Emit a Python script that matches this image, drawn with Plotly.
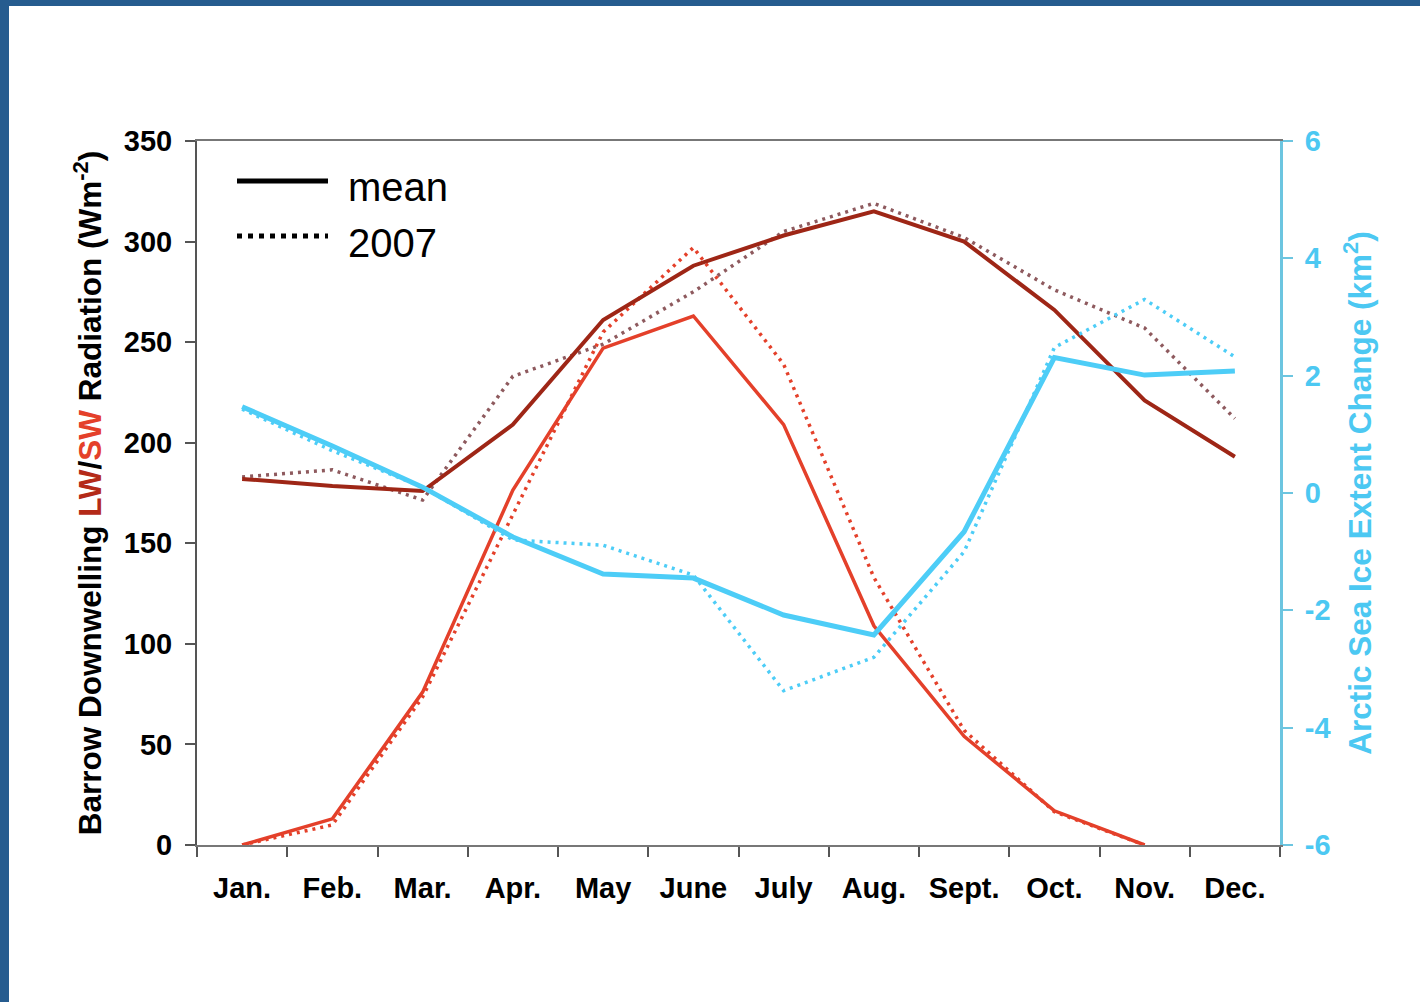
import plotly.graph_objects as go

# Monthly climatology at Barrow and Arctic sea-ice extent change
months = ["Jan.", "Feb.", "Mar.", "Apr.", "May", "June", "July",
          "Aug.", "Sept.", "Oct.", "Nov.", "Dec."]

# Downwelling longwave (W m-2)
lw_mean = [182, 178.5, 176, 209, 261, 288, 303, 315, 300, 266, 221, 193]
lw_2007 = [183, 186.5, 171.5, 233, 249, 275, 305, 319, 302, 276, 257, 212]

# Downwelling shortwave (W m-2)
sw_mean = [0, 13, 76, 176.5, 247, 263, 209, 109, 54, 17, 0, None]
sw_2007 = [0, 10, 73.6, 164, 255, 297, 239, 133, 57, 16.5, 0, None]

# Arctic sea-ice extent change (km2)
ice_mean = [1.47, 0.8, 0.1, -0.75, -1.38, -1.45, -2.08, -2.42, -0.66, 2.31, 2.01, 2.08]
ice_2007 = [1.43, 0.72, 0.1, -0.8, -0.89, -1.4, -3.37, -2.8, -1.0, 2.48, 3.3, 2.32]

left_ticks = [0, 50, 100, 150, 200, 250, 300, 350]
right_ticks = [-6, -4, -2, 0, 2, 4, 6]
right_labels = ["-6", "-4", "-2", "0", "2", "4", "6"]

LW_COL = "#9E2616"
LW07_COL = "#8E5A5E"
SW_COL = "#E4402A"
ICE_COL = "#4DCDF7"
ICE_TXT = "#4CC8F2"
AX_COL = "#555555"
RAX_COL = "#6CC5E0"
FONT = "Liberation Sans, Arial, sans-serif"
DOT = "3px,5px"

fig = go.Figure()

fig.add_trace(go.Scatter(x=months, y=lw_2007, mode="lines", yaxis="y",
                         line=dict(color=LW07_COL, width=3.5, dash=DOT)))
fig.add_trace(go.Scatter(x=months, y=sw_2007, mode="lines", yaxis="y",
                         line=dict(color=SW_COL, width=3.5, dash=DOT)))
fig.add_trace(go.Scatter(x=months, y=lw_mean, mode="lines", yaxis="y",
                         line=dict(color=LW_COL, width=4)))
fig.add_trace(go.Scatter(x=months, y=sw_mean, mode="lines", yaxis="y",
                         line=dict(color=SW_COL, width=3.5)))
fig.add_trace(go.Scatter(x=months, y=ice_2007, mode="lines", yaxis="y2",
                         line=dict(color=ICE_COL, width=3.5, dash=DOT)))
fig.add_trace(go.Scatter(x=months, y=ice_mean, mode="lines", yaxis="y2",
                         line=dict(color=ICE_COL, width=5)))

boundaries = [i - 0.5 for i in range(13)]

fig.update_layout(
    width=1420, height=1002,
    margin=dict(l=197, r=140, t=141, b=157),
    paper_bgcolor="white", plot_bgcolor="white",
    showlegend=False,
    font=dict(family=FONT, color="black"),
    xaxis=dict(
        type="category", categoryorder="array", categoryarray=months,
        range=[-0.5, 11.5], tickson="boundaries",
        ticks="outside", ticklen=10, tickwidth=2, tickcolor=AX_COL,
        showline=True, linecolor="#777777", linewidth=2, mirror=True,
        showgrid=False, zeroline=False,
        tickfont=dict(size=29, weight="bold", color="black"),
        ticklabelstandoff=16,
    ),
    xaxis2=dict(
        overlaying="x", anchor="y", side="bottom",
        range=[-0.5, 11.5], tickvals=boundaries,
        ticks="inside", ticklen=10, tickwidth=2, tickcolor=AX_COL,
        showticklabels=False, showline=False, showgrid=False, zeroline=False,
    ),
    yaxis=dict(
        range=[0, 350], tickvals=left_ticks,
        ticks="outside", ticklen=10, tickwidth=2, tickcolor=AX_COL,
        showline=True, linecolor=AX_COL, linewidth=2,
        showgrid=False, zeroline=False,
        tickfont=dict(size=29, weight="bold", color="black"),
        ticklabelstandoff=7,
        title=dict(
            text="Barrow Downwelling <span style='color:#B42A18'>LW</span>/"
                 "<span style='color:#E4402A'>SW</span> Radiation (Wm<sup>-2</sup>)",
            font=dict(size=31.5, weight="bold", color="black"),
            standoff=13,
        ),
    ),
    yaxis2=dict(
        overlaying="y", side="right", anchor="x",
        range=[-6, 6], tickvals=right_ticks, ticktext=right_labels,
        ticks="outside", ticklen=10, tickwidth=2, tickcolor=RAX_COL,
        showline=True, linecolor=RAX_COL, linewidth=3,
        showgrid=False, zeroline=False,
        tickfont=dict(size=29, weight="bold", color=ICE_TXT),
        ticklabelstandoff=6,
        title=dict(
            text="Arctic Sea Ice Extent Change (km<sup>2</sup>)",
            font=dict(size=31.5, weight="bold", color=ICE_TXT),
            standoff=20,
        ),
    ),
    yaxis3=dict(
        overlaying="y", side="left", anchor="x",
        range=[0, 350], tickvals=left_ticks,
        ticks="inside", ticklen=10, tickwidth=2, tickcolor=AX_COL,
        showticklabels=False, showline=False, showgrid=False, zeroline=False,
    ),
    yaxis4=dict(
        overlaying="y", side="right", anchor="x",
        range=[-6, 6], tickvals=right_ticks,
        ticks="inside", ticklen=10, tickwidth=2, tickcolor=RAX_COL,
        showticklabels=False, showline=False, showgrid=False, zeroline=False,
    ),
)

# Page frame (dark blue strips along the left and top edges)
W, H = 1420, 1002
L, T, PW, PH = 197, 141, 1083, 704


def px(x):
    return (x - L) / PW


def py(y):
    return (T + PH - y) / PH


FRAME = "#265C8F"
fig.add_shape(type="rect", xref="paper", yref="paper",
              x0=px(0), x1=px(9), y0=py(H), y1=py(0),
              fillcolor=FRAME, line=dict(width=0), layer="above")
fig.add_shape(type="rect", xref="paper", yref="paper",
              x0=px(0), x1=px(W), y0=py(6), y1=py(0),
              fillcolor=FRAME, line=dict(width=0), layer="above")

# Line-style key
fig.add_shape(type="line", xref="paper", yref="paper",
              x0=px(237), x1=px(328), y0=py(181), y1=py(181),
              line=dict(color="black", width=5))
fig.add_shape(type="line", xref="paper", yref="paper",
              x0=px(237), x1=px(328), y0=py(236), y1=py(236),
              line=dict(color="black", width=5, dash="5px,6px"))
fig.add_annotation(xref="paper", yref="paper", x=px(346), y=py(187),
                   text="mean", showarrow=False, xanchor="left", yanchor="middle",
                   font=dict(size=40, color="black", family=FONT))
fig.add_annotation(xref="paper", yref="paper", x=px(346), y=py(243),
                   text="2007", showarrow=False, xanchor="left", yanchor="middle",
                   font=dict(size=40, color="black", family=FONT))

fig.write_html("out.html")
